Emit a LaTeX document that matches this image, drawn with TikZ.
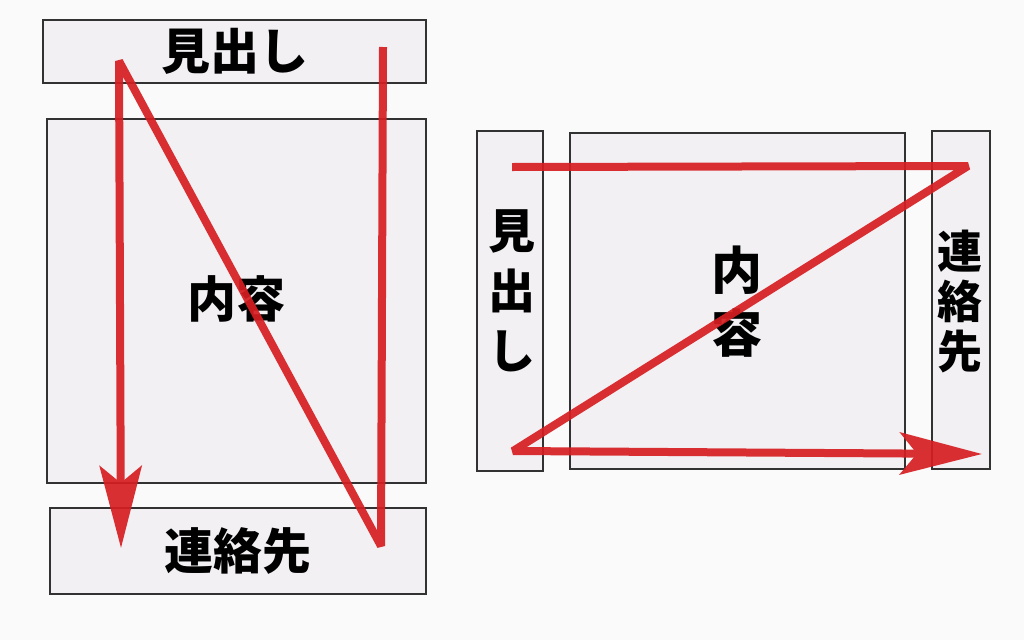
\documentclass[tikz,border=0pt]{standalone}
\usepackage{fontspec}
\newfontfamily\cjk{Noto Sans CJK JP}
\usetikzlibrary{arrows.meta}
\definecolor{bgc}{RGB}{250,250,250}
\definecolor{boxfill}{RGB}{242,240,243}
\definecolor{boxline}{RGB}{50,50,50}
\definecolor{flow}{RGB}{214,30,34}
\tikzset{
  box/.style={draw=boxline, line width=1.6pt, fill=boxfill, inner sep=0pt, text=black, font=\cjk\bfseries\fontsize{49}{49}\selectfont},
  flowline/.style={draw=flow, line width=8pt, line join=bevel},
  bigtip/.style={-{Stealth[length=82pt,width=42pt,inset=17pt,sharp]}}
}
\begin{document}
\begin{tikzpicture}[x=1pt,y=-1pt]
\fill[bgc] (0,0) rectangle (1024,640);
\useasboundingbox (0,0) rectangle (1024,640);
% left layout
\node[box, minimum width=383pt, minimum height=63pt] (lhead) at (234.5,51.5) {見出し};
\node[box, minimum width=379pt, minimum height=364pt] (lbody) at (236.5,301) {\raisebox{8pt}{内容}};
\node[box, minimum width=376pt, minimum height=86pt] (lfoot) at (238,551) {連絡先};
% right layout
\node[box, minimum width=66pt, minimum height=340pt] (rhead) at (510,301) {};
\node[box, minimum width=335pt, minimum height=336pt] (rbody) at (737.5,301) {};
\node[box, minimum width=58pt, minimum height=338pt] (rfoot) at (961,300) {};
\node[font=\cjk\bfseries\fontsize{47}{60}\selectfont, align=center, inner sep=0pt] (rheadtxt) at (512,291) {見\\出\\し};
\node[font=\cjk\bfseries\fontsize{51}{63}\selectfont, align=center, inner sep=0pt] (rbodytxt) at (737,302) {内\\容};
\node[font=\cjk\bfseries\fontsize{45}{50}\selectfont, align=center, inner sep=0pt] (rfoottxt) at (960,302) {連\\絡\\先};
% flow coordinates
\coordinate (a1) at (383,47);
\coordinate (a2) at (381,546);
\coordinate (a3) at (119,61);
\coordinate (a4) at (121,548);
\coordinate (b1) at (512,167);
\coordinate (b2) at (968,166);
\coordinate (b3) at (513,451);
\coordinate (b4) at (982,454);
\begin{scope}[transparency group, opacity=0.92]
\draw[flowline, bigtip] (a1) -- (a2) -- (a3) -- (a4);
\end{scope}
\begin{scope}[transparency group, opacity=0.92]
\draw[flowline, bigtip] (b1) -- (b2) -- (b3) -- (b4);
\end{scope}
\end{tikzpicture}
\end{document}
